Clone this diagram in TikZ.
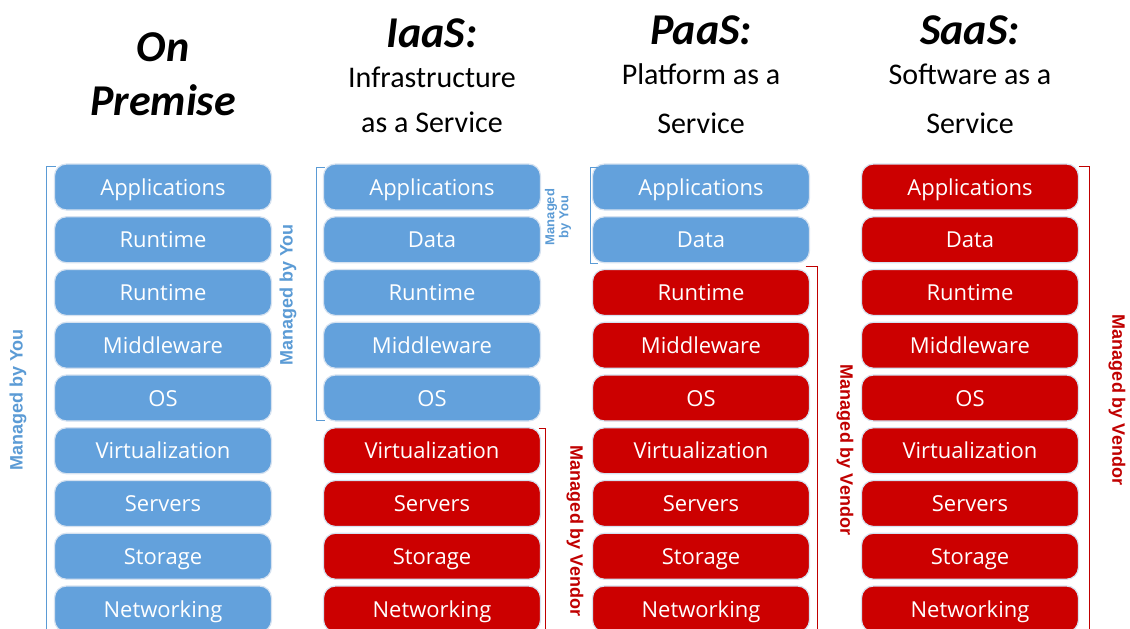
\documentclass[tikz,border=0pt]{standalone}
\usepackage{fontspec}
\setmainfont{Carlito}
\newfontfamily\boxfont{Open Sans}
\newfontfamily\labelfont{Liberation Sans}
\usepackage{tikz}

\definecolor{youblue}{RGB}{99,161,220}
\definecolor{vendorred}{RGB}{204,0,0}
\definecolor{linkblue}{RGB}{91,155,213}
\definecolor{linkred}{RGB}{192,0,0}
\definecolor{glowc}{RGB}{214,226,240}

\tikzset{
  layer/.style={rounded corners=12pt, minimum width=217pt, minimum height=46pt,
    draw=glowc, line width=1.2pt, text=white, inner sep=0pt,
    text height=18pt, text depth=2pt,
    font=\boxfont\fontsize{22}{24}\selectfont},
  you/.style={layer, fill=youblue},
  vendor/.style={layer, fill=vendorred},
  headbig/.style={font=\fontsize{44}{50}\selectfont\bfseries\itshape},
  head/.style={font=\fontsize{44}{50}\selectfont\bfseries\itshape},
  sub/.style={font=\fontsize{30}{34}\selectfont},
  youbracket/.style={draw=linkblue, line width=1.2pt},
  vendorbracket/.style={draw=linkred, line width=1.2pt},
  youlabel/.style={text=linkblue, font=\labelfont\bfseries\fontsize{18}{20}\selectfont, rotate=90},
  vendorlabel/.style={text=linkred, font=\labelfont\bfseries\fontsize{18}{20}\selectfont, rotate=-90}
}

\begin{document}
\begin{tikzpicture}[x=1pt, y=-1pt]
\useasboundingbox (0,0) rectangle (1130,629);

% headings
\node[headbig] (ophead)  at (163,47)  {On};
\node[headbig] (ophead2) at (163,100) {Premise};
\node[head] (iahead) at (432,33)  {IaaS:};
\node[sub]  (iasub)  at (432,77)  {Infrastructure};
\node[sub]  (iasub2) at (432,122) {as a Service};
\node[head] (pahead) at (701,30)  {PaaS:};
\node[sub]  (pasub)  at (701,74)  {Platform as a};
\node[sub]  (pasub2) at (701,123) {Service};
\node[head] (sahead) at (970,30)  {SaaS:};
\node[sub]  (sasub)  at (970,74)  {Software as a};
\node[sub]  (sasub2) at (970,123) {Service};

% on premise stack
\foreach \i/\txt in {1/Applications,2/Runtime,3/Runtime,4/Middleware,5/OS,
                     6/Virtualization,7/Servers,8/Storage,9/Networking}
  \node[you] (op\i) at (163,{187+(\i-1)*52.75}) {\txt};

% IaaS stack
\foreach \i/\txt/\st in {1/Applications/you,2/Data/you,3/Runtime/you,4/Middleware/you,5/OS/you,
                     6/Virtualization/vendor,7/Servers/vendor,8/Storage/vendor,9/Networking/vendor}
  \node[\st] (ia\i) at (432,{187+(\i-1)*52.75}) {\txt};

% PaaS stack
\foreach \i/\txt/\st in {1/Applications/you,2/Data/you,3/Runtime/vendor,4/Middleware/vendor,5/OS/vendor,
                     6/Virtualization/vendor,7/Servers/vendor,8/Storage/vendor,9/Networking/vendor}
  \node[\st] (pa\i) at (701,{187+(\i-1)*52.75}) {\txt};

% SaaS stack
\foreach \i/\txt in {1/Applications,2/Data,3/Runtime,4/Middleware,5/OS,
                     6/Virtualization,7/Servers,8/Storage,9/Networking}
  \node[vendor] (sa\i) at (970,{187+(\i-1)*52.75}) {\txt};

% brackets
\draw[youbracket] ([xshift=2pt,yshift=-3pt]op1.north west) -- ([xshift=-7.5pt,yshift=-3pt]op1.north west)
  -- ([xshift=-7.5pt]op9.south west);
\draw[youbracket] ([xshift=2pt,yshift=-4pt]ia1.north west) -- ([xshift=-6.5pt,yshift=-4pt]ia1.north west)
  -- ([xshift=-6.5pt,yshift=1pt]ia5.south west) -- ([xshift=2pt,yshift=1pt]ia5.south west);
\draw[vendorbracket] ([xshift=-2.5pt,yshift=-1pt]ia6.north east) -- ([xshift=4.5pt,yshift=-1pt]ia6.north east)
  -- ([xshift=4.5pt]ia9.south east);
\draw[youbracket] ([xshift=6pt,yshift=-4pt]pa1.north west) -- ([xshift=-1.5pt,yshift=-4pt]pa1.north west)
  -- ([xshift=-1.5pt]pa2.south west) -- ([xshift=6pt]pa2.south west);
\draw[vendorbracket] ([xshift=-4.5pt,yshift=2.5pt]pa3.north east) -- ([xshift=7.5pt,yshift=2.5pt]pa3.north east)
  -- ([xshift=7.5pt]pa9.south east);
\draw[vendorbracket] ([xshift=-0.5pt,yshift=-3pt]sa1.north east) -- ([xshift=10.5pt,yshift=-3pt]sa1.north east)
  -- ([xshift=10.5pt]sa9.south east);

% bracket labels
\node[youlabel] (opyou) at (18,400) {Managed by You};
\node[youlabel] (iayou) at (288,295) {Managed by You};
\node[vendorlabel] (iavendor) at (575,531) {Managed by Vendor};
\node[youlabel, font=\labelfont\bfseries\fontsize{13}{14}\selectfont, align=center] (payou) at (558,217) {Managed\\by You};
\node[vendorlabel] (pavendor) at (845,450) {Managed by Vendor};
\node[vendorlabel] (savendor) at (1117,400) {Managed by Vendor};
\end{tikzpicture}
\end{document}
